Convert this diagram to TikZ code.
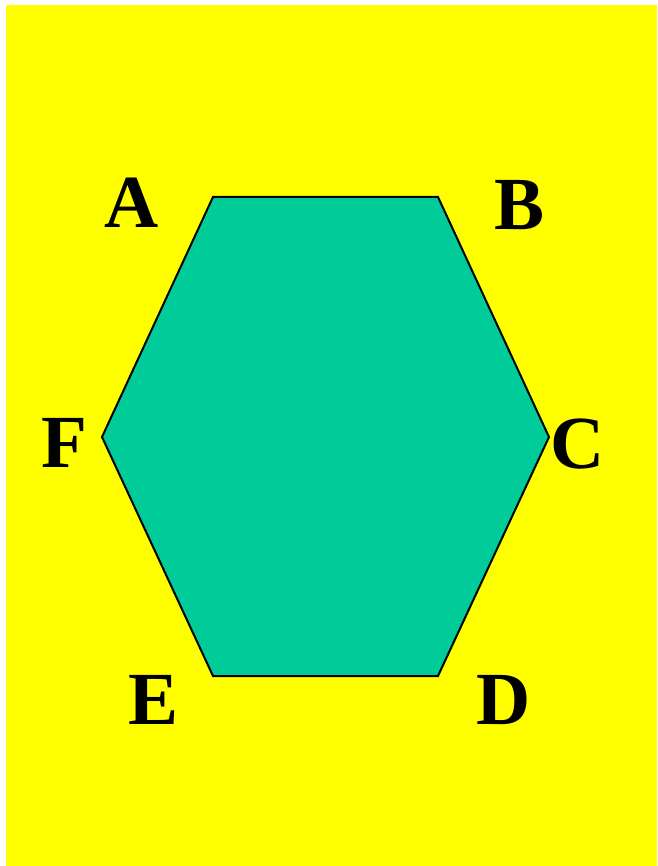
\documentclass[tikz,border=0pt]{standalone}
\usepackage{fontspec}
\setmainfont{Liberation Serif}
\definecolor{bgyellow}{RGB}{255,255,0}
\definecolor{hexgreen}{RGB}{0,204,153}
\begin{document}
\begin{tikzpicture}[x=1pt,y=-1pt,
  lbl/.style={inner sep=0pt,font=\fontsize{75}{75}\selectfont\bfseries}]
\useasboundingbox (0,0) rectangle (657,866);
\fill[bgyellow] (6,5) rectangle (657,866);
\coordinate (A) at (213,197);
\coordinate (B) at (438,197);
\coordinate (C) at (549,437);
\coordinate (D) at (438,676);
\coordinate (E) at (213,676);
\coordinate (F) at (102,437);
\draw[fill=hexgreen,line width=2pt,line join=miter] (A) -- (B) -- (C) -- (D) -- (E) -- (F) -- cycle;
\node[lbl] (la) at (132,203) {A};
\node[lbl] (lb) at (520,205) {B};
\node[lbl] (lc) at (578,444) {C};
\node[lbl] (ld) at (504,700) {D};
\node[lbl] (le) at (154,700) {E};
\node[lbl] (lf) at (64,443) {F};
\end{tikzpicture}
\end{document}
